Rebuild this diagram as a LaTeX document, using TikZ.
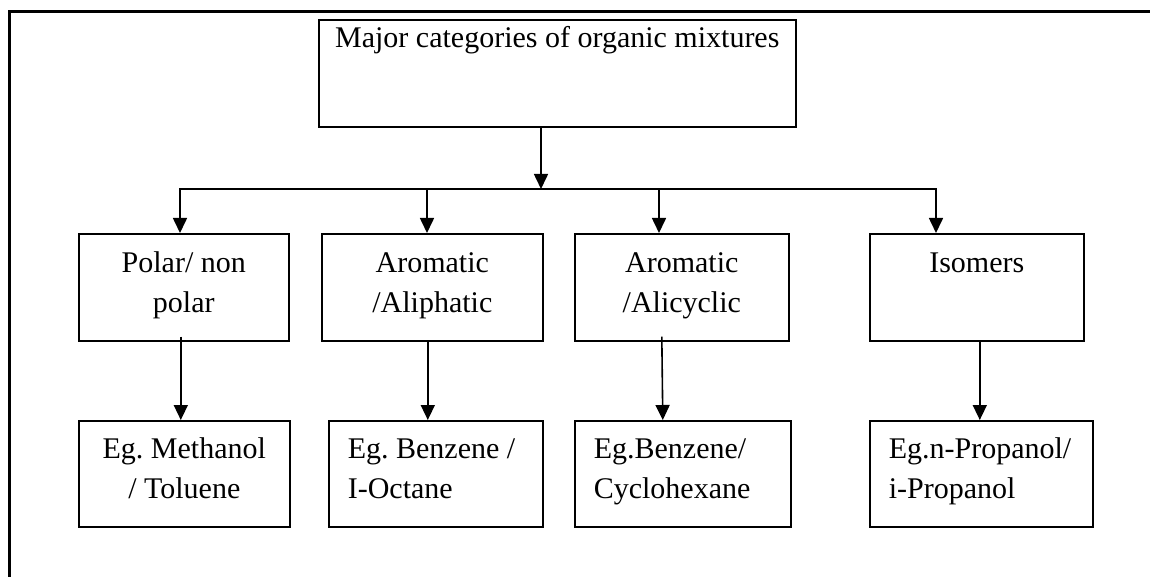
\documentclass[tikz,border=0pt]{standalone}
\usepackage{fontspec}
\setmainfont{Liberation Serif}
\usetikzlibrary{arrows.meta}
\begin{document}
\begin{tikzpicture}[x=1pt,y=-1pt,
  every node/.style={font=\fontsize{30}{40}\selectfont\frenchspacing},
  catbox/.style={draw,line width=1.6pt,anchor=north west,inner sep=0pt,align=flush center,text height=39pt,text depth=68pt},
  egbox/.style={draw,line width=1.6pt,anchor=north west,inner ysep=0pt,inner xsep=19pt,align=flush left,text height=38pt,text depth=68pt},
  arr/.style={line width=1.6pt,-{Triangle[width=14pt,length=15pt]}}]
\useasboundingbox (0,0) rectangle (1150,577);

% Page frame
\draw[line width=3pt] (9,600) -- (9,12) -- (1170,12);

% Top box
\node[catbox,text width=477pt,text height=28pt,text depth=79pt] (major) at (318,19) {Major categories of organic mixtures};

% Categories
\node[catbox,text width=210pt] (polar) at (78,233) {Polar/ non\\polar};
\node[catbox,text width=221pt] (aroali) at (321,233) {Aromatic\\/Aliphatic};
\node[catbox,text width=214pt] (aroalc) at (574,233) {Aromatic\\/Alicyclic};
\node[catbox,text width=214pt] (isomer) at (869,233) {Isomers};

% Examples
\node[egbox,inner xsep=0pt,align=flush center,text width=211pt] (egmeth) at (78,420) {Eg. Methanol\\/ Toluene};
\node[egbox,text width=176pt] (egbenz) at (328,420) {Eg. Benzene /\\I-Octane};
\node[egbox,text width=178pt] (egcyc) at (574,420) {Eg.Benzene/\\Cyclohexane};
\node[egbox,text width=185pt] (egprop) at (869,420) {Eg.n-Propanol/\\i-Propanol};

% Branching line
\coordinate (bus) at (541,189);
\coordinate (b1) at (180,189);
\coordinate (b2) at (427,189);
\coordinate (b3) at (659,189);
\coordinate (b4) at (936,189);
\draw[arr] (major.south -| bus) -- (bus);
\draw[line width=1.6pt,line cap=rect] (b1) -- (b4);
\foreach \b/\n in {b1/polar,b2/aroali,b3/aroalc,b4/isomer}
  \draw[arr] (\b) -- (\b |- \n.north);

% Down to the examples
\draw[arr] ([xshift=-3pt,yshift=5pt]polar.south) -- ([xshift=-3pt]polar.south |- egmeth.north);
\draw[arr] ([xshift=-4.5pt]aroali.south) -- ([xshift=-4.5pt]aroali.south |- egbenz.north);
\draw[arr] ([xshift=-20pt,yshift=5pt]aroalc.south) -- ([xshift=-19pt]aroalc.south |- egcyc.north);
\draw[arr] ([xshift=3pt]isomer.south) -- ([xshift=3pt]isomer.south |- egprop.north);
\end{tikzpicture}
\end{document}
